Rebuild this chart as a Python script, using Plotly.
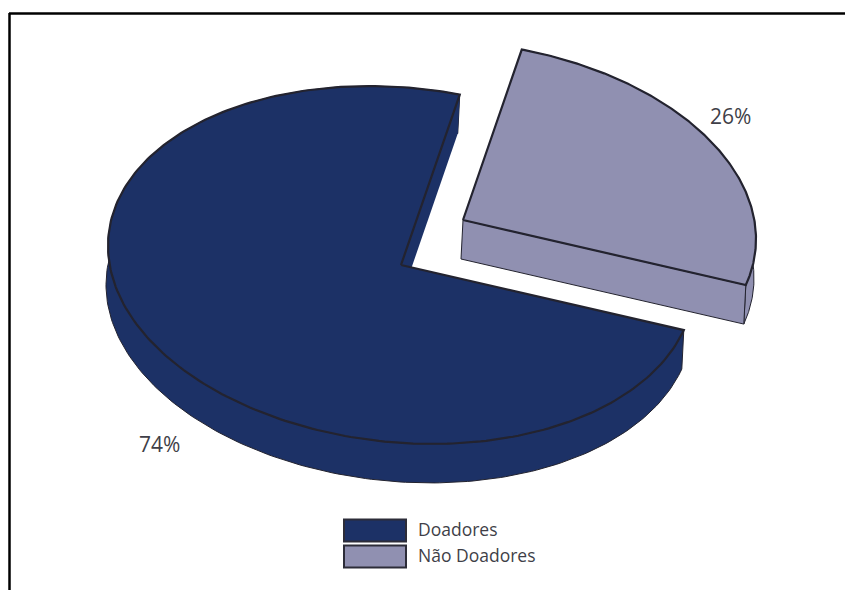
import numpy as np
import plotly.graph_objects as go

categories = ["Doadores", "Não Doadores"]
values = [74, 26]
value_labels = ["74%", "26%"]
colors = ["#1c3166", "#9090b1"]

W, H = 845, 590
A, B = 294, 177.3          # ellipse radii of the tilted disc
TILT = np.radians(5.9)     # tilt of the disc on the page
DEPTH = (-2, 39)           # vector of the extruded wall
START = 8.0                # first slice boundary, degrees clockwise from top
CENTERS = {"Doadores": (401, 265), "Não Doadores": (463, 220)}
EDGE = "#23232f"
FONT = "Open Sans"


def rim(center, t):
    """Point of the disc rim at parameter t (degrees clockwise from top)."""
    t = np.radians(t)
    u, v = A * np.sin(t), -B * np.cos(t)
    return (center[0] + u * np.cos(TILT) - v * np.sin(TILT),
            center[1] + u * np.sin(TILT) + v * np.cos(TILT))


def poly(fig, xs, ys, color, name, line=None):
    fig.add_trace(go.Scatter(
        x=list(xs), y=list(ys), mode="lines", fill="toself", fillcolor=color,
        line=line or dict(width=0, color=color), name=name,
        hoverinfo="name", showlegend=False))


total = sum(values)
spans = [v / total * 360 for v in values]
# the smaller slice runs from START clockwise, the larger one takes the rest
ranges = {
    categories[1]: (START, START + spans[1]),
    categories[0]: (START + spans[1], START + spans[1] + spans[0]),
}

fig = go.Figure()
thin = dict(width=1, color=EDGE)
top = dict(width=2.2, color=EDGE)

for cat, col in zip(categories, colors):
    c = CENTERS[cat]
    t0, t1 = ranges[cat]
    ts = np.linspace(t0, t1, 240)
    rx, ry = rim(c, ts)
    # outer wall
    poly(fig, np.r_[rx, (rx + DEPTH[0])[::-1], rx[0]],
         np.r_[ry, (ry + DEPTH[1])[::-1], ry[0]], col, cat, thin)
    # flat cut walls
    px, py = rim(c, t1)
    poly(fig, [c[0], px, px + DEPTH[0], c[0] + DEPTH[0], c[0]],
         [c[1], py, py + DEPTH[1], c[1] + DEPTH[1], c[1]], col, cat,
         thin if cat == categories[1] else None)
    # top face
    poly(fig, np.r_[c[0], rx, c[0]], np.r_[c[1], ry, c[1]], col, cat, top)

label_pos = {"74%": (159, 444), "26%": (730, 116)}
annotations = [
    dict(x=label_pos[t][0], y=label_pos[t][1], text=t, showarrow=False,
         font=dict(family=FONT, size=21, color="#3f3f48"))
    for t in value_labels
]

shapes = [
    dict(type="line", x0=9.5, x1=9.5, y0=13, y1=590,
         line=dict(color="black", width=2.5)),
    dict(type="line", x0=9, x1=845, y0=13.5, y1=13.5,
         line=dict(color="black", width=2.5)),
]
for i, (cat, col) in enumerate(zip(categories, colors)):
    y0 = 519.5 + i * 26
    shapes.append(dict(type="rect", x0=344, x1=406, y0=y0, y1=y0 + 22,
                       fillcolor=col, line=dict(color="#2c2c38", width=2)))
    annotations.append(dict(x=416, y=y0 + 9, text=cat, showarrow=False,
                            xanchor="left",
                            font=dict(family=FONT, size=17.5, color="#3f3f48")))

fig.update_layout(
    width=W, height=H, margin=dict(l=0, r=0, t=0, b=0),
    paper_bgcolor="white", plot_bgcolor="white", showlegend=False,
    xaxis=dict(range=[0, W], visible=False, fixedrange=True),
    yaxis=dict(range=[H, 0], visible=False, fixedrange=True),
    annotations=annotations, shapes=shapes,
)
fig.write_html("out.html", config={"displayModeBar": False},
               post_script="document.body.style.margin='0';")
